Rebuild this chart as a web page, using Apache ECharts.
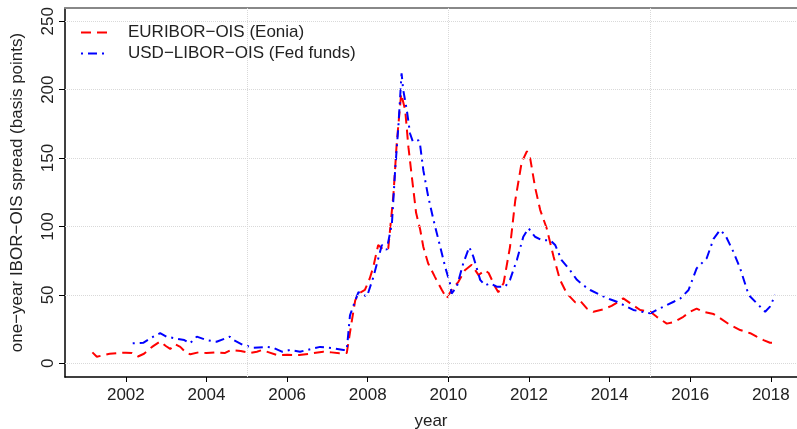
<!DOCTYPE html>
<html>
<head>
<meta charset="utf-8">
<script src="https://cdn.jsdelivr.net/npm/echarts@6/dist/echarts.min.js"></script>
<style>
  html, body { margin: 0; padding: 0; background: #fff; }
  #c1 { width: 797px; height: 429px; }
</style>
</head>
<body>
<div id="c1"></div>
<script>
// EURIBOR-OIS (Eonia)
var eurYears = [2001.17,2001.28,2001.45,2001.6,2001.8,2002.0,2002.15,2002.3,2002.45,2002.65,2002.85,2003.0,2003.1,2003.22,2003.35,2003.5,2003.6,2003.8,2004.0,2004.2,2004.45,2004.6,2004.85,2005.08,2005.25,2005.38,2005.55,2005.75,2006.0,2006.3,2006.55,2006.9,2007.1,2007.3,2007.48,2007.6,2007.69,2007.77,2007.93,2008.05,2008.14,2008.26,2008.39,2008.51,2008.64,2008.72,2008.83,2008.93,2009.01,2009.08,2009.2,2009.3,2009.38,2009.5,2009.67,2009.84,2009.96,2010.08,2010.25,2010.41,2010.58,2010.75,2010.91,2011.0,2011.16,2011.24,2011.37,2011.53,2011.66,2011.82,2011.95,2012.03,2012.15,2012.28,2012.44,2012.61,2012.77,2012.94,2013.15,2013.27,2013.44,2013.6,2013.85,2014.05,2014.22,2014.34,2014.51,2014.76,2015.01,2015.17,2015.42,2015.59,2015.83,2016.0,2016.16,2016.33,2016.58,2016.74,2016.99,2017.24,2017.49,2017.65,2017.82,2017.98,2018.11];
var eurVals = [8,4.8,6,7,7.5,7.8,7.5,5,7,12,16,12.5,10.5,14,12,7.5,6.6,8,7.5,8,7.5,9.7,9,7.5,8.5,9.7,8,6,6.2,6,7,8.5,8,7.3,7.5,30,46,51,53.6,62,70.6,86.5,83,84,124,161,197,185,158,140,110,98,85,73,63,53.6,47.5,53.6,59.6,68,72,64.5,68,66,56,52,58.5,85,119,147,155,150,129,112,98.7,78,61,51,44.5,45.8,40,37.7,39.5,42,45,47.5,44,39,37.7,34,29,30,34,37.7,40,37.7,36,33,28,24.3,22,19.5,17,15,15];

// USD-LIBOR-OIS (Fed funds)
var usdYears = [2002.17,2002.43,2002.68,2002.85,2003.01,2003.26,2003.45,2003.59,2003.76,2004.0,2004.25,2004.58,2004.67,2004.91,2005.16,2005.5,2005.66,2005.87,2006.07,2006.32,2006.49,2006.82,2007.15,2007.4,2007.48,2007.56,2007.65,2007.77,2007.98,2008.14,2008.35,2008.47,2008.6,2008.68,2008.76,2008.84,2008.88,2008.97,2009.05,2009.12,2009.26,2009.3,2009.38,2009.5,2009.63,2009.8,2009.92,2010.04,2010.08,2010.21,2010.37,2010.52,2010.62,2010.79,2010.91,2011.04,2011.2,2011.41,2011.53,2011.7,2011.86,2011.99,2012.15,2012.32,2012.53,2012.65,2012.81,2013.02,2013.19,2013.35,2013.52,2013.77,2014.01,2014.18,2014.43,2014.59,2014.8,2015.01,2015.17,2015.34,2015.59,2015.76,2015.96,2016.0,2016.16,2016.41,2016.58,2016.74,2016.87,2017.07,2017.24,2017.45,2017.65,2017.86,2017.98,2018.11];
var usdVals = [14.6,15,19.5,22,19.5,18,17,14.6,19.5,17,15.8,19.5,17,13.4,11.4,12,11.4,8.5,9.7,8.5,9.7,12,11,9.7,9.7,35,42.6,52,48.7,63,86.5,83,102,141,173,212,200,185,168,162,163,159.6,141,122,105,85,70.6,58.5,51,56,73,85,78,61,57,58.5,56,56,61,75.5,92.5,98.7,92.5,90,90,86.5,75.5,68,61,57,53.6,50,46.8,45,41.4,39,37.7,36.5,39,41.4,45,47.5,53.6,55,69.4,76.8,91,97.4,93.8,81.6,69.4,50,44,37.7,41.4,50];

var xTicks = [2002,2004,2006,2008,2010,2012,2014,2016,2018];
var yTicks = [0,50,100,150,200,250];
var xGrid = [2005,2010,2015];

function pairs(xs, ys) {
    var out = [];
    for (var i = 0; i < xs.length; i++) out.push([xs[i], ys[i]]);
    return out;
}

var chartDom = document.getElementById('c1');
var myChart = echarts.init(chartDom);
var font = 'Liberation Sans, Arial, sans-serif';
var gridStyle = { color: '#d9d9d9', type: 'dotted', width: 1 };

var gridMarks = [];
xGrid.forEach(function (v) { gridMarks.push({ xAxis: v }); });
yTicks.forEach(function (v) { gridMarks.push({ yAxis: v }); });

var option = {
    animation: false,
    textStyle: { fontFamily: font },
    grid: { left: 65, top: 8, right: 0, bottom: 52, show: false, containLabel: false, outerBoundsMode: 'none' },
    legend: {
        orient: 'vertical',
        left: 80,
        top: 24,
        padding: 0,
        itemWidth: 27,
        itemHeight: 14,
        itemGap: 4,
        itemStyle: { opacity: 0 },
        textStyle: { fontSize: 17, color: '#222', fontFamily: font, padding: [0, 0, 0, 15] },
        data: ['EURIBOR−OIS (Eonia)', 'USD−LIBOR−OIS (Fed funds)']
    },
    xAxis: [{
        type: 'value',
        min: 2000.49,
        max: 2018.65,
        name: 'year',
        nameLocation: 'middle',
        nameGap: 36,
        nameTextStyle: { fontSize: 17, color: '#222' },
        axisLine: { show: true, onZero: false, lineStyle: { color: '#000', width: 1.5 } },
        axisTick: { show: true, length: 5, customValues: xTicks, lineStyle: { color: '#000' } },
        axisLabel: {
            customValues: xTicks, fontSize: 17, color: '#222', margin: 10,
            formatter: function (v) { return String(v); }
        },
        splitLine: { show: false }
    }, {
        type: 'value',
        position: 'top',
        min: 2000.49,
        max: 2018.65,
        axisLine: { show: true, onZero: false, lineStyle: { color: '#888', width: 2 } },
        axisTick: { show: false },
        axisLabel: { show: false },
        splitLine: { show: false }
    }],
    yAxis: {
        type: 'value',
        min: -10,
        max: 259.7,
        name: 'one−year IBOR−OIS spread (basis points)',
        nameLocation: 'middle',
        nameGap: 39,
        nameTextStyle: { fontSize: 17, color: '#222' },
        axisLine: { show: true, onZero: false, lineStyle: { color: '#000', width: 1.5 } },
        axisTick: { show: true, length: 6, customValues: yTicks, lineStyle: { color: '#000' } },
        axisLabel: { customValues: yTicks, fontSize: 17, color: '#222', rotate: 90, margin: 8 },
        splitLine: { show: false }
    },
    series: [{
        name: 'EURIBOR−OIS (Eonia)',
        type: 'line',
        symbol: 'none',
        data: pairs(eurYears, eurVals),
        color: '#ff0000',
        lineStyle: { color: '#ff0000', width: 2, type: [10, 6] },
        markLine: {
            silent: true,
            symbol: 'none',
            label: { show: false },
            lineStyle: gridStyle,
            data: gridMarks
        },
        z: 3
    }, {
        name: 'USD−LIBOR−OIS (Fed funds)',
        type: 'line',
        symbol: 'none',
        data: pairs(usdYears, usdVals),
        color: '#0000ff',
        lineStyle: { color: '#0000ff', width: 2, type: [2, 5, 9, 5] },
        z: 4
    }]
};
myChart.setOption(option);
</script>
</body>
</html>
